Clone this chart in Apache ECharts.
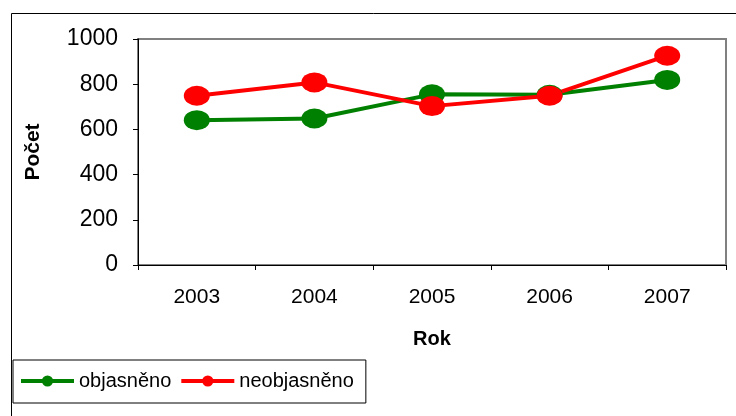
<!DOCTYPE html>
<html>
<head>
<meta charset="utf-8">
<script src="https://cdn.jsdelivr.net/npm/echarts@6/dist/echarts.min.js"></script>
<style>
  html, body { margin: 0; padding: 0; background: #fff; }
  #chart { width: 736px; height: 416px; }
</style>
</head>
<body>
<div id="chart"></div>
<script>
// data
const years = ['2003', '2004', '2005', '2006', '2007']
const objasneno = [641, 648, 755, 753, 819]
const neobjasneno = [749, 808, 703, 749, 926]
const yTicks = { min: 0, max: 1000, interval: 200 }

const font = '"Liberation Sans", Arial, sans-serif'
const chart = echarts.init(document.getElementById('chart'))

function line(name, color, data) {
  return {
    name,
    type: 'line',
    data,
    symbol: 'circle',
    symbolSize: [26, 20],
    lineStyle: { color, width: 4 },
    itemStyle: { color },
    emphasis: { disabled: true }
  }
}

chart.setOption({
  animation: false,
  textStyle: { fontFamily: font },
  graphic: [{
    type: 'polyline',
    shape: { points: [[11.5, 416], [11.5, 13.5], [736, 13.5]] },
    style: { stroke: '#000', lineWidth: 1, fill: null }
  }],
  grid: {
    left: 138, top: 39, right: 10, bottom: 151,
    show: true, borderColor: '#808080', borderWidth: 2
  },
  legend: {
    left: 13, top: 360,
    padding: [11, 12, 12, 6],
    itemGap: 8,
    itemWidth: 53, itemHeight: 14,
    borderColor: '#000', borderWidth: 1,
    lineStyle: { width: 4 },
    textStyle: { fontSize: 20, color: '#000', fontFamily: font },
    data: ['objasněno', 'neobjasněno']
  },
  xAxis: {
    type: 'category',
    data: years,
    boundaryGap: true,
    name: 'Rok',
    nameLocation: 'middle',
    nameGap: 64,
    nameTextStyle: { fontSize: 20, fontWeight: 'bold', color: '#000' },
    axisLine: { lineStyle: { color: '#000', width: 1 } },
    axisTick: { show: true, length: 5, lineStyle: { color: '#000' } },
    axisLabel: { fontSize: 21, color: '#000', margin: 22 }
  },
  yAxis: {
    type: 'value',
    min: yTicks.min, max: yTicks.max, interval: yTicks.interval,
    name: 'Počet',
    nameLocation: 'middle',
    nameGap: 94,
    nameTextStyle: { fontSize: 21, fontWeight: 'bold', color: '#000' },
    axisLine: { show: true, lineStyle: { color: '#000', width: 1 } },
    axisTick: { show: true, length: 5, lineStyle: { color: '#000' } },
    axisLabel: { fontSize: 23, color: '#000', margin: 20, formatter: v => String(v) },
    splitLine: { show: false }
  },
  series: [
    line('objasněno', '#008000', objasneno),
    line('neobjasněno', '#ff0000', neobjasneno)
  ]
})
</script>
</body>
</html>
